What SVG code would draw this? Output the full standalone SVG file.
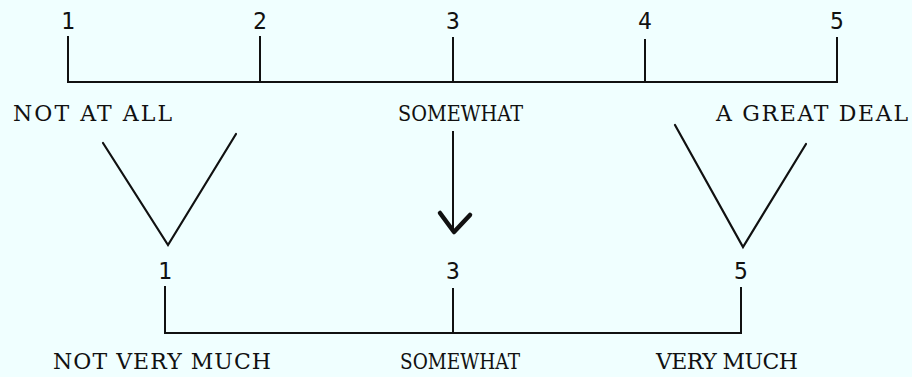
<svg xmlns="http://www.w3.org/2000/svg" width="912" height="377" viewBox="0 0 912 377">
  <style>
    .bg { fill: #F0FFFF; }
    .ln { stroke: #111; stroke-width: 2; fill: none; stroke-linecap: square; }
    .vv { stroke: #111; stroke-width: 2.2; fill: none; stroke-linecap: round; stroke-linejoin: miter; }
    .head { stroke: #111; stroke-width: 4.5; fill: none; stroke-linecap: round; stroke-linejoin: round; }
    .num { font-family: "DejaVu Sans Mono", "Liberation Mono", monospace; font-size: 23px; fill: #111; text-anchor: middle; }
    .lbl { font-family: "DejaVu Serif", "Liberation Serif", serif; font-size: 22px; fill: #111; }
  </style>
  <rect class="bg" x="0" y="0" width="912" height="377"/>

  <g id="top-scale">
    <path class="ln" d="M68,37 V82 H837 V38"/>
    <path class="ln" d="M260,37 V82 M453,38 V82 M645,40 V82"/>
    <text class="num" x="68" y="29">1</text>
    <text class="num" x="260" y="29">2</text>
    <text class="num" x="453" y="29">3</text>
    <text class="num" x="645" y="29">4</text>
    <text class="num" x="837" y="29">5</text>
  </g>

  <g id="top-labels">
    <text class="lbl" x="13" y="121" textLength="159" lengthAdjust="spacing">NOT AT ALL</text>
    <text class="lbl" x="398" y="121" textLength="125" lengthAdjust="spacingAndGlyphs">SOMEWHAT</text>
    <text class="lbl" x="716" y="121" textLength="192" lengthAdjust="spacing">A GREAT DEAL</text>
  </g>

  <g id="connectors">
    <path class="vv" d="M103,143 L168,245 L236,134"/>
    <path class="vv" d="M675,125 L743,247 L806,144"/>
    <line class="ln" x1="453" y1="132" x2="453" y2="231" stroke-width="1.6"/>
    <path class="head" d="M440,213 L454,232 L470,215"/>
  </g>

  <g id="bottom-scale">
    <path class="ln" d="M165,287 V333 H741 V288"/>
    <path class="ln" d="M453,289 V333"/>
    <text class="num" x="165" y="279">1</text>
    <text class="num" x="453" y="279">3</text>
    <text class="num" x="741" y="279">5</text>
  </g>

  <g id="bottom-labels">
    <text class="lbl" x="53" y="369" textLength="218" lengthAdjust="spacing">NOT VERY MUCH</text>
    <text class="lbl" x="400" y="369" textLength="120" lengthAdjust="spacingAndGlyphs">SOMEWHAT</text>
    <text class="lbl" x="656" y="369" textLength="142" lengthAdjust="spacing">VERY MUCH</text>
  </g>
</svg>
